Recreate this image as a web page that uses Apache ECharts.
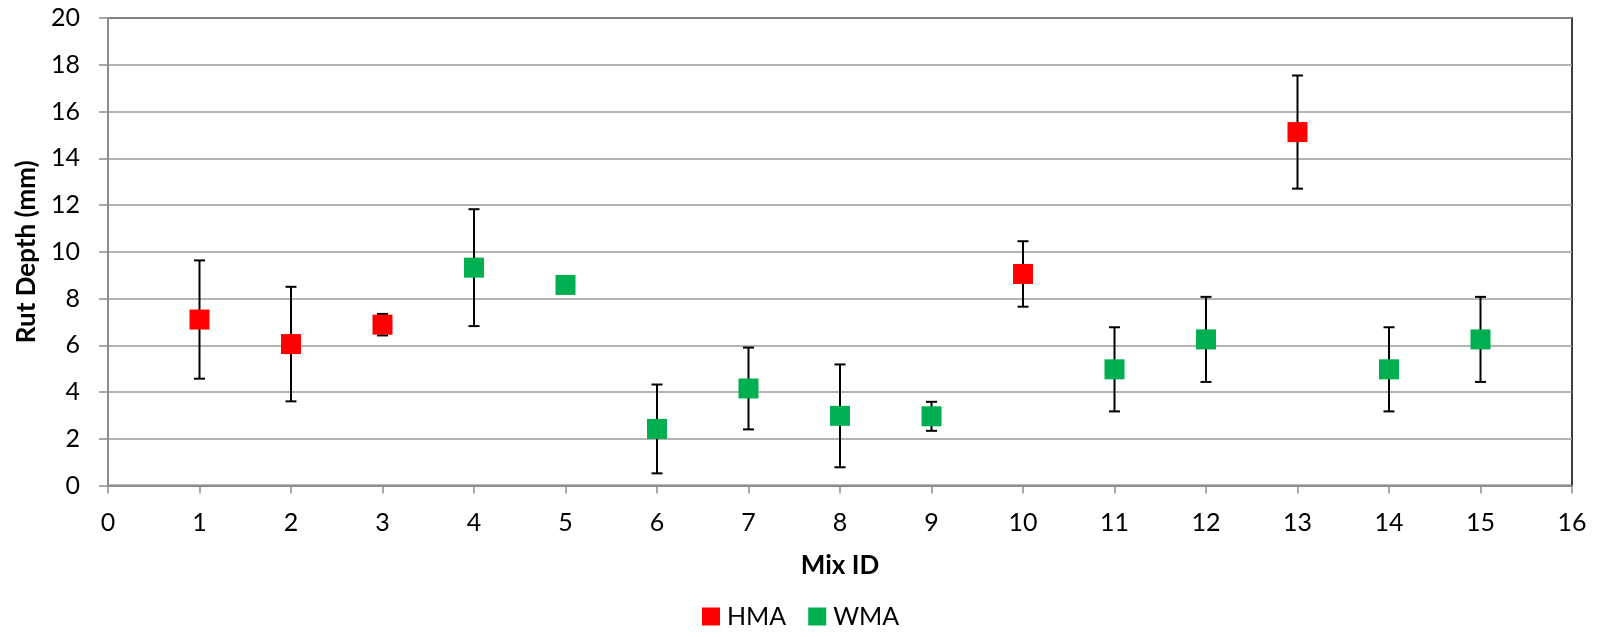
<!DOCTYPE html>
<html>
<head>
<meta charset="utf-8">
<script src="https://cdn.jsdelivr.net/npm/echarts@6/dist/echarts.min.js"></script>
<style>html,body{margin:0;padding:0;background:#fff}#c{width:1601px;height:637px}</style>
</head>
<body>
<div id="c"></div>
<script>
// Data
var hmaIds   = [1, 2, 3, 10, 13];
var hmaMean  = [7.1, 6.05, 6.88, 9.05, 15.12];
var hmaErr   = [2.53, 2.45, 0.46, 1.4, 2.42];

var wmaIds   = [4, 5, 6, 7, 8, 9, 11, 12, 14, 15];
var wmaMean  = [9.32, 8.58, 2.42, 4.15, 2.98, 2.96, 4.97, 6.25, 4.97, 6.25];
var wmaErr   = [2.5, 0, 1.9, 1.75, 2.2, 0.62, 1.8, 1.82, 1.8, 1.82];

var xTicks = [0,1,2,3,4,5,6,7,8,9,10,11,12,13,14,15,16];
var yTicks = [0,2,4,6,8,10,12,14,16,18,20];

var FONT = 'Lato';

function pts(ids, mean) { return ids.map(function (x, i) { return [x, mean[i]]; }); }
function errData(ids, mean, err) { return ids.map(function (x, i) { return [x, mean[i] - err[i], mean[i] + err[i]]; }); }

function renderErr(params, api) {
  var x = api.value(0);
  var lo = api.coord([x, api.value(1)]);
  var hi = api.coord([x, api.value(2)]);
  if (Math.abs(hi[1] - lo[1]) < 0.5) return null;
  var hw = 5.5;
  var st = { stroke: '#000', lineWidth: 2 };
  return {
    type: 'group',
    children: [
      { type: 'line', shape: { x1: lo[0], y1: lo[1], x2: hi[0], y2: hi[1] }, style: st },
      { type: 'line', shape: { x1: lo[0] - hw, y1: lo[1], x2: lo[0] + hw, y2: lo[1] }, style: st },
      { type: 'line', shape: { x1: hi[0] - hw, y1: hi[1], x2: hi[0] + hw, y2: hi[1] }, style: st }
    ]
  };
}

var chart = echarts.init(document.getElementById('c'), null, { renderer: 'canvas' });
chart.setOption({
  animation: false,
  backgroundColor: '#fff',
  textStyle: { fontFamily: FONT },
  grid: { left: 108, right: 29, top: 18, bottom: 151.5, show: true, borderColor: '#000', borderWidth: 1.5 },
  legend: {
    bottom: 3, left: 697, itemWidth: 18, itemHeight: 18, itemGap: 22,
    textStyle: { fontFamily: FONT, fontSize: 25, color: '#000', padding: [0, 0, 0, 2] },
    data: [{ name: 'HMA', icon: 'rect' }, { name: 'WMA', icon: 'rect' }]
  },
  xAxis: {
    type: 'value', min: xTicks[0], max: xTicks[xTicks.length - 1], interval: 1,
    name: 'Mix ID', nameLocation: 'middle', nameGap: 67,
    nameTextStyle: { fontFamily: FONT, fontSize: 26, fontWeight: 'bold', color: '#000' },
    axisLine: { show: true, lineStyle: { color: '#8c8c8c', width: 2 } },
    axisTick: { show: true, length: 8, lineStyle: { color: '#8c8c8c', width: 1.5 } },
    axisLabel: { margin: 25, fontFamily: FONT, fontSize: 25, color: '#000' },
    splitLine: { show: false }
  },
  yAxis: {
    type: 'value', min: yTicks[0], max: yTicks[yTicks.length - 1], interval: 2,
    name: 'Rut Depth (mm)', nameLocation: 'middle', nameGap: 68,
    nameTextStyle: { fontFamily: FONT, fontSize: 26, fontWeight: 'bold', color: '#000' },
    axisLine: { show: true, lineStyle: { color: '#8c8c8c', width: 2 } },
    axisTick: { show: true, length: 9, lineStyle: { color: '#8c8c8c', width: 1.5 } },
    axisLabel: { margin: 28, fontFamily: FONT, fontSize: 25, color: '#000' },
    splitLine: { show: true, lineStyle: { color: '#9a9a9a', width: 1.5 } }
  },
  series: [
    { name: 'HMA-err', type: 'custom', renderItem: renderErr, data: errData(hmaIds, hmaMean, hmaErr), z: 3, silent: true },
    { name: 'WMA-err', type: 'custom', renderItem: renderErr, data: errData(wmaIds, wmaMean, wmaErr), z: 3, silent: true },
    { name: 'HMA', type: 'scatter', symbol: 'rect', symbolSize: 20, data: pts(hmaIds, hmaMean), itemStyle: { color: '#ff0000', opacity: 1 }, z: 5 },
    { name: 'WMA', type: 'scatter', symbol: 'rect', symbolSize: 20, data: pts(wmaIds, wmaMean), itemStyle: { color: '#00b050', opacity: 1 }, z: 5 }
  ]
});
</script>
</body>
</html>
